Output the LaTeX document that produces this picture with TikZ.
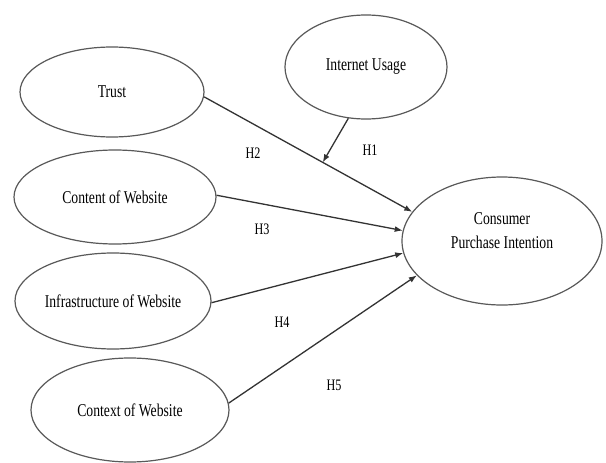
\documentclass[tikz,border=0pt]{standalone}
\usepackage{fontspec}
\setmainfont[FakeStretch=0.76]{Liberation Serif}
\usetikzlibrary{shapes.geometric,arrows.meta}
\begin{document}
\begin{tikzpicture}[x=1pt,y=-1pt,
  oval/.style={ellipse,draw=black!65,line width=1.2pt,inner sep=0pt,
    font=\fontsize{18}{24}\selectfont,text=black,align=center},
  hyp/.style={font=\fontsize{16}{18}\selectfont,text=black,inner sep=0pt},
  link/.style={draw=black!80,line width=1.3pt,-{Latex[length=8pt,width=6pt]}}]
\useasboundingbox[fill=white] (0,0) rectangle (606,463);
\node[oval,minimum width=184pt,minimum height=90pt] (trust) at (112,92) {Trust};
\node[oval,minimum width=162pt,minimum height=104pt] (iu) at (366,67) {Internet Usage};
\node[oval,minimum width=202pt,minimum height=94pt] (content) at (115,197) {Content of Website};
\node[oval,minimum width=196pt,minimum height=96pt] (infra) at (113,301) {Infrastructure of Website};
\node[oval,minimum width=198pt,minimum height=104pt] (context) at (130,410) {Context of Website};
\node[oval,minimum width=200pt,minimum height=128pt] (cpi) at (502,241)
  {\begin{tabular}{@{}c@{}}Consumer\\Purchase Intention\\[18pt]\end{tabular}};
\draw[link] (trust.-3) -- coordinate[pos=0.57] (m) (cpi.162);
\draw[link] (iu.251) -- (m);
\draw[link] (content.1) -- (cpi.174);
\draw[link] (infra.-1) -- (cpi.187);
\draw[link] (context.4) -- (cpi.202);
\node[hyp] (h1) at (370,150) {H1};
\node[hyp] (h2) at (253,153) {H2};
\node[hyp] (h3) at (262,229) {H3};
\node[hyp] (h4) at (282,322) {H4};
\node[hyp] (h5) at (334,385) {H5};
\end{tikzpicture}
\end{document}
